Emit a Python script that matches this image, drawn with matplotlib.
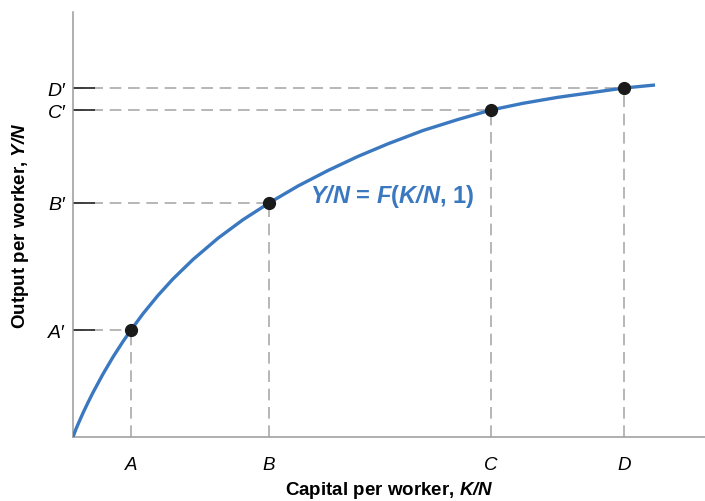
import numpy as np
import matplotlib
matplotlib.use("Agg")
from matplotlib import pyplot as plt

#-------------------------------------------------------------
# production function (arbitrary units)
curve_k = [0, 3, 6, 10, 15, 20, 30, 40, 50, 58, 70, 85, 100, 120, 145, 170, 196,
           225, 255, 285, 315, 350, 385, 418, 450, 485, 520, 551, 582]
curve_y = [0, 8, 15, 24, 34.5, 44.5, 63, 80, 95.5, 107, 123.3, 141.6, 158.1, 177.5,
           198.8, 217.3, 234, 251, 266.5, 280.6, 293.2, 306.5, 317.5, 327, 333.7,
           339.7, 344.6, 349, 352]

# marked points A..D
point_names = ["A", "B", "C", "D"]
point_k = [58, 196, 418, 551]
point_y = [107, 234, 327, 349]

x_labels = ["$\\mathit{A}$", "$\\mathit{B}$", "$\\mathit{C}$", "$\\mathit{D}$"]
y_labels = ["$\\mathit{A\u2032}$", "$\\mathit{B\u2032}$", "$\\mathit{C\u2032}$", "$\\mathit{D\u2032}$"]

#-------------------------------------------------------------
plt.rcParams['font.family'] = ['Liberation Sans', 'DejaVu Sans']
plt.rcParams['mathtext.fontset'] = 'custom'
plt.rcParams['mathtext.rm'] = 'Liberation Sans'
plt.rcParams['mathtext.it'] = 'Liberation Sans:italic'
plt.rcParams['mathtext.bf'] = 'Liberation Sans:bold'
plt.rcParams['mathtext.bfit'] = 'Liberation Sans:italic:bold'

blue = "#3a78c0"
dash_gray = "#aaaaaa"

fig = plt.figure(figsize=(7.05, 5.02), dpi=100)
ax = fig.add_axes([73/705, 64/502, 632/705, 425/502])
ax.set_xlim(0, 632)
ax.set_ylim(0, 425)

#-------------------------------------------------------------
# guide lines
for k, y in zip(point_k, point_y):
    ax.plot([0, k], [y, y], color=dash_gray, lw=1.2, ls=(0, (7, 4)), zorder=1)
    ax.plot([k, k], [0, y], color=dash_gray, lw=1.2, ls=(0, (7, 4)), zorder=1)
#end-for

ax.plot(curve_k, curve_y, color=blue, lw=2.4, solid_capstyle='butt',
        solid_joinstyle='round', zorder=3)
ax.plot(point_k, point_y, 'o', color="#1a1a1a", ms=8.5, zorder=4)

ax.text(237, 242, "$\\mathbfit{Y/N}$ = $\\mathbfit{F}$($\\mathbfit{K/N}$, 1)",
        color=blue, fontsize=17, fontweight='bold', va='center', ha='left')

#-------------------------------------------------------------
for s in ["top", "right"]:
    ax.spines[s].set_visible(False)
for s in ["left", "bottom"]:
    ax.spines[s].set_color("#9a9a9a")
    ax.spines[s].set_linewidth(1.1)

ax.set_xticks(point_k)
ax.set_xticklabels(x_labels, fontsize=13.5)
ax.tick_params(axis='x', length=0, pad=14)

ax.set_yticks(point_y)
ax.set_yticklabels(y_labels, fontsize=14)
ax.tick_params(axis='y', direction='in', length=16, width=1.3, color="#333333", pad=5)

ax.set_xlabel("Capital per worker, $\\mathbfit{K/N}$", fontsize=13.5, fontweight='bold',
              labelpad=4)
ax.set_ylabel("Output per worker, $\\mathbfit{Y/N}$", fontsize=13.5, fontweight='bold',
              labelpad=11)

fig.savefig("out.png", dpi=100)
